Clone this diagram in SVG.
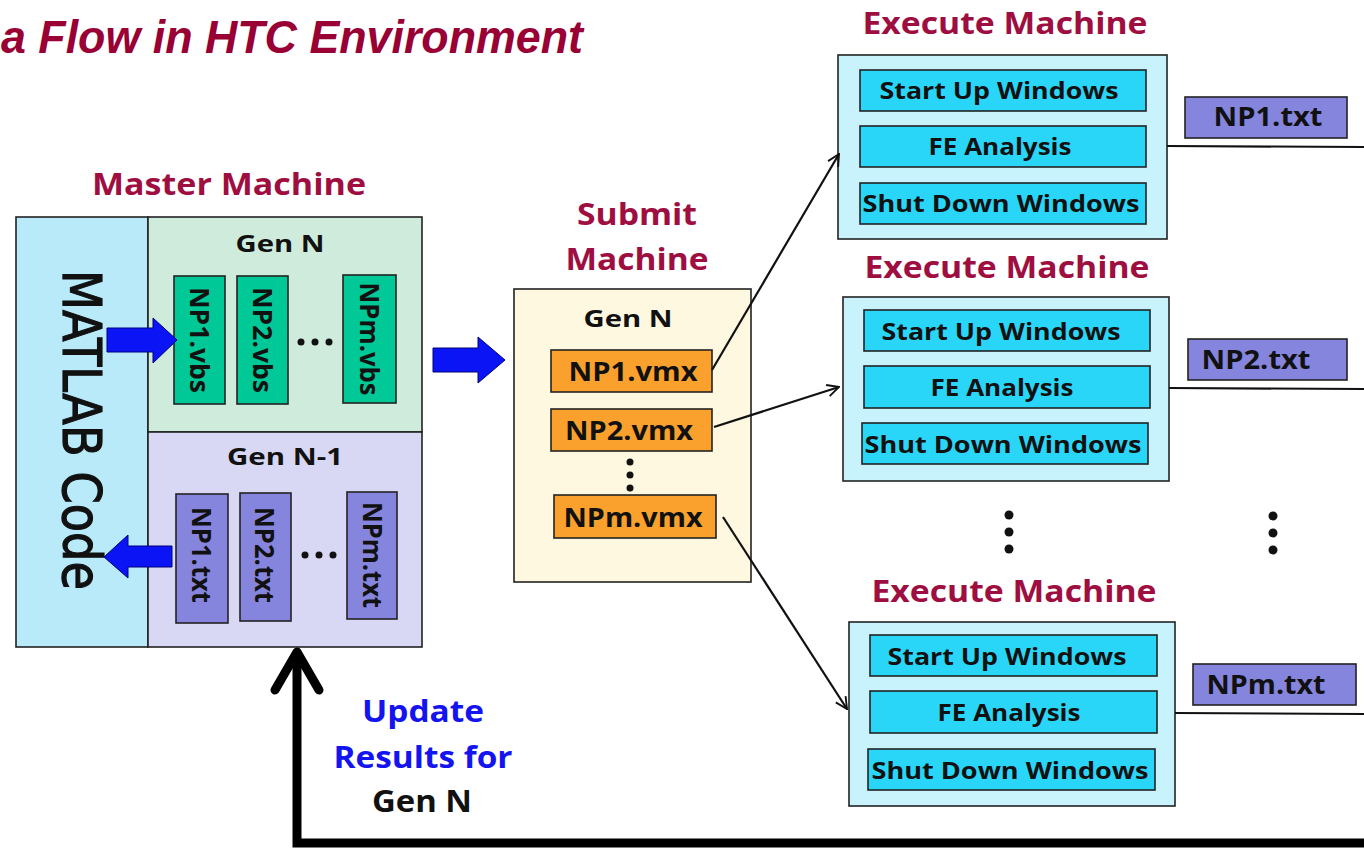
<svg xmlns="http://www.w3.org/2000/svg" width="1364" height="850" viewBox="0 0 1364 850">
<style>
text{font-family:"Open Sans","Liberation Sans",sans-serif;font-weight:bold;fill:#111}
.ttl{fill:#9E0E40;font-size:30px}
.lbl{font-size:24px}
.rot{font-size:27px}
.big{font-size:26px}
.box{stroke:#222;stroke-width:1.6}
.vbs{fill:#00C896}
.txt{fill:#8585DE}
.vmx{fill:#F9A12C}
.task{fill:#29D6F8}
.exe{fill:#C8F2FC}
.blue{fill:#0A14F5;stroke:#00007A;stroke-width:1}
.con{stroke:#111;stroke-width:2.2;fill:none}
.dot{fill:#111}
</style>
<defs>
<marker id="open" viewBox="0 0 12 12" refX="11" refY="6" markerWidth="14" markerHeight="14" markerUnits="userSpaceOnUse" orient="auto">
<path d="M1,1 L11,6 L1,11" fill="none" stroke="#111" stroke-width="1.6"/>
</marker>
</defs>
<rect width="1364" height="850" fill="#fff"/>

<text x="1" y="53" style="font-family:'Liberation Sans',sans-serif;font-style:italic;font-size:46px;fill:#990033" textLength="582" lengthAdjust="spacingAndGlyphs">a Flow in HTC Environment</text>

<g id="master">
<text class="ttl" x="229" y="195" text-anchor="middle" textLength="274" lengthAdjust="spacingAndGlyphs">Master Machine</text>
<rect class="box" x="16" y="217" width="132" height="430" fill="#B8EAFA"/>
<rect class="box" x="148" y="217" width="274" height="215" fill="#CEEBDC"/>
<rect class="box" x="148" y="432" width="274" height="215" fill="#D8D8F4"/>
<text transform="translate(81,430) rotate(90)" text-anchor="middle" dominant-baseline="central" style="font-family:'DejaVu Sans',sans-serif;font-weight:normal;font-size:54px;stroke:#111;stroke-width:1.2" textLength="320" lengthAdjust="spacingAndGlyphs">MATLAB Code</text>
<text class="lbl" x="280" y="252" text-anchor="middle" textLength="89" lengthAdjust="spacingAndGlyphs">Gen N</text>
<text class="lbl" x="285" y="465" text-anchor="middle" textLength="116" lengthAdjust="spacingAndGlyphs">Gen N-1</text>
</g>

<g id="np1-vbs"><rect class="box vbs" x="174" y="276" width="51" height="128"/>
<text class="rot" transform="translate(200,340) rotate(90)" text-anchor="middle" dominant-baseline="central" textLength="106" lengthAdjust="spacingAndGlyphs">NP1.vbs</text></g>
<g id="np2-vbs"><rect class="box vbs" x="237" y="276" width="51" height="128"/>
<text class="rot" transform="translate(263,340) rotate(90)" text-anchor="middle" dominant-baseline="central" textLength="106" lengthAdjust="spacingAndGlyphs">NP2.vbs</text></g>
<g id="npm-vbs"><rect class="box vbs" x="343" y="275" width="53" height="128"/>
<text class="rot" transform="translate(370,339) rotate(90)" text-anchor="middle" dominant-baseline="central" textLength="113" lengthAdjust="spacingAndGlyphs">NPm.vbs</text></g>
<g id="vbs-dots"><circle class="dot" cx="301" cy="342" r="3.5"/><circle class="dot" cx="315" cy="342" r="3.5"/><circle class="dot" cx="329" cy="342" r="3.5"/></g>

<g id="np1-txt"><rect class="box txt" x="176" y="494" width="52" height="129"/>
<text class="rot" transform="translate(202,555) rotate(90)" text-anchor="middle" dominant-baseline="central" textLength="96" lengthAdjust="spacingAndGlyphs">NP1.txt</text></g>
<g id="np2-txt"><rect class="box txt" x="240" y="493" width="51" height="128"/>
<text class="rot" transform="translate(265,555) rotate(90)" text-anchor="middle" dominant-baseline="central" textLength="96" lengthAdjust="spacingAndGlyphs">NP2.txt</text></g>
<g id="npm-txt"><rect class="box txt" x="347" y="492" width="50" height="127"/>
<text class="rot" transform="translate(373,555) rotate(90)" text-anchor="middle" dominant-baseline="central" textLength="106" lengthAdjust="spacingAndGlyphs">NPm.txt</text></g>
<g id="txt-dots"><circle class="dot" cx="305" cy="555" r="3.5"/><circle class="dot" cx="319" cy="555" r="3.5"/><circle class="dot" cx="333" cy="555" r="3.5"/></g>

<g id="submit">
<text class="ttl" x="637" y="225" text-anchor="middle" textLength="120" lengthAdjust="spacingAndGlyphs">Submit</text>
<text class="ttl" x="637" y="270" text-anchor="middle" textLength="143" lengthAdjust="spacingAndGlyphs">Machine</text>
<rect class="box" x="514" y="289" width="237" height="293" fill="#FEF8E0"/>
<text class="lbl" x="628" y="327" text-anchor="middle" textLength="89" lengthAdjust="spacingAndGlyphs">Gen N</text>
</g>
<g id="np1-vmx"><rect class="box vmx" x="551" y="350" width="161" height="42"/>
<text class="big" x="633" y="381" text-anchor="middle" textLength="129" lengthAdjust="spacingAndGlyphs">NP1.vmx</text></g>
<g id="np2-vmx"><rect class="box vmx" x="551" y="409" width="161" height="42"/>
<text class="big" x="629" y="440" text-anchor="middle" textLength="128" lengthAdjust="spacingAndGlyphs">NP2.vmx</text></g>
<g id="vmx-dots"><circle class="dot" cx="630" cy="462" r="3.5"/><circle class="dot" cx="630" cy="475" r="3.5"/><circle class="dot" cx="630" cy="488" r="3.5"/></g>
<g id="npm-vmx"><rect class="box vmx" x="554" y="495" width="162" height="43"/>
<text class="big" x="633" y="527" text-anchor="middle" textLength="139" lengthAdjust="spacingAndGlyphs">NPm.vmx</text></g>

<g id="exec1">
<text class="ttl" x="1005" y="34" text-anchor="middle" textLength="285" lengthAdjust="spacingAndGlyphs">Execute Machine</text>
<rect class="box exe" x="838" y="55" width="329" height="184"/>
<rect class="box task" x="860" y="70" width="286" height="41"/>
<text class="lbl" x="999" y="99" text-anchor="middle" textLength="239" lengthAdjust="spacingAndGlyphs">Start Up Windows</text>
<rect class="box task" x="860" y="126" width="286" height="41"/>
<text class="lbl" x="1000" y="155" text-anchor="middle" textLength="143" lengthAdjust="spacingAndGlyphs">FE Analysis</text>
<rect class="box task" x="860" y="183" width="286" height="41"/>
<text class="lbl" x="1001" y="212" text-anchor="middle" textLength="277" lengthAdjust="spacingAndGlyphs">Shut Down Windows</text>
</g>
<g id="np1-out"><rect class="box txt" x="1185" y="97" width="162" height="41"/>
<text class="big" x="1268" y="126" text-anchor="middle" textLength="109" lengthAdjust="spacingAndGlyphs">NP1.txt</text></g>

<g id="exec2">
<text class="ttl" x="1007" y="278" text-anchor="middle" textLength="285" lengthAdjust="spacingAndGlyphs">Execute Machine</text>
<rect class="box exe" x="843" y="297" width="326" height="184"/>
<rect class="box task" x="864" y="310" width="286" height="41"/>
<text class="lbl" x="1001" y="340" text-anchor="middle" textLength="239" lengthAdjust="spacingAndGlyphs">Start Up Windows</text>
<rect class="box task" x="864" y="366" width="286" height="42"/>
<text class="lbl" x="1002" y="396" text-anchor="middle" textLength="143" lengthAdjust="spacingAndGlyphs">FE Analysis</text>
<rect class="box task" x="862" y="423" width="286" height="41"/>
<text class="lbl" x="1003" y="453" text-anchor="middle" textLength="277" lengthAdjust="spacingAndGlyphs">Shut Down Windows</text>
</g>
<g id="np2-out"><rect class="box txt" x="1188" y="339" width="159" height="41"/>
<text class="big" x="1256" y="369" text-anchor="middle" textLength="109" lengthAdjust="spacingAndGlyphs">NP2.txt</text></g>

<g id="exec-dots"><circle class="dot" cx="1009" cy="515" r="4.5"/><circle class="dot" cx="1009" cy="532" r="4.5"/><circle class="dot" cx="1009" cy="549" r="4.5"/>
<circle class="dot" cx="1273" cy="516" r="4.5"/><circle class="dot" cx="1273" cy="533" r="4.5"/><circle class="dot" cx="1273" cy="550" r="4.5"/></g>

<g id="exec3">
<text class="ttl" x="1014" y="602" text-anchor="middle" textLength="285" lengthAdjust="spacingAndGlyphs">Execute Machine</text>
<rect class="box exe" x="849" y="622" width="326" height="184"/>
<rect class="box task" x="870" y="635" width="287" height="41"/>
<text class="lbl" x="1007" y="665" text-anchor="middle" textLength="239" lengthAdjust="spacingAndGlyphs">Start Up Windows</text>
<rect class="box task" x="870" y="691" width="287" height="42"/>
<text class="lbl" x="1009" y="721" text-anchor="middle" textLength="143" lengthAdjust="spacingAndGlyphs">FE Analysis</text>
<rect class="box task" x="868" y="749" width="287" height="41"/>
<text class="lbl" x="1010" y="779" text-anchor="middle" textLength="277" lengthAdjust="spacingAndGlyphs">Shut Down Windows</text>
</g>
<g id="npm-out"><rect class="box txt" x="1193" y="664" width="163" height="41"/>
<text class="big" x="1266" y="694" text-anchor="middle" textLength="119" lengthAdjust="spacingAndGlyphs">NPm.txt</text></g>

<g id="update-label">
<text x="423" y="722" text-anchor="middle" style="font-size:30px;fill:#1414F0" textLength="122" lengthAdjust="spacingAndGlyphs">Update</text>
<text x="423" y="768" text-anchor="middle" style="font-size:30px;fill:#1414F0" textLength="179" lengthAdjust="spacingAndGlyphs">Results for</text>
<text x="422" y="812" text-anchor="middle" style="font-size:30px" textLength="100" lengthAdjust="spacingAndGlyphs">Gen N</text>
</g>

<g id="connectors">
<polygon class="blue" points="107,328 153,328 153,318 177,340 153,363 153,352 107,352"/>
<polygon class="blue" points="172,546 128,546 128,535 104,557 128,578 128,567 172,567"/>
<polygon class="blue" points="433,348 478,348 478,337 505,360 478,383 478,372 433,372"/>
<line class="con" x1="712" y1="370" x2="839" y2="154" marker-end="url(#open)"/>
<line class="con" x1="714" y1="427" x2="839" y2="387" marker-end="url(#open)"/>
<line class="con" x1="723" y1="517" x2="847" y2="709" marker-end="url(#open)"/>
<line class="con" x1="1167" y1="146" x2="1364" y2="147"/>
<line class="con" x1="1169" y1="388" x2="1364" y2="389"/>
<line class="con" x1="1175" y1="713" x2="1364" y2="714"/>
<path d="M1364,843 L297,843 L297,653" fill="none" stroke="#000" stroke-width="9"/>
<polyline points="275,690 297,652 319,690" fill="none" stroke="#000" stroke-width="9" stroke-linecap="round" stroke-linejoin="round"/>
</g>
</svg>
